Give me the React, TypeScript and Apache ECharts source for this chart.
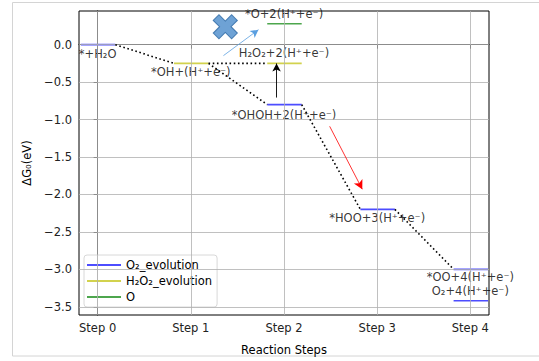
import React, { useEffect, useRef } from "react";
import * as echarts from "echarts";

const stepNames = ["Step 0", "Step 1", "Step 2", "Step 3", "Step 4"];
const stepPositions = [0, 1, 2, 3, 4];
const yTickValues = [0.0, -0.5, -1.0, -1.5, -2.0, -2.5, -3.0, -3.5];

// [step, ΔG]
const o2Evolution = [[0, 0.0], [2, -0.8], [3, -2.2], [4, -3.0], [4, -3.42]];
const h2o2Evolution = [[1, -0.25], [2, -0.25]];
const oPath = [[2, 0.28]];

// dotted connectors: [from level, to level]
const connectors = [
  [[0, 0.0], [1, -0.25]],
  [[1, -0.25], [2, -0.25]],
  [[1, -0.25], [2, -0.8]],
  [[2, -0.8], [3, -2.2]],
  [[3, -2.2], [4, -3.0]],
];

const stateTexts = [
  "*+H₂O",
  "*OH+(H⁺+e⁻)",
  "*OHOH+2(H⁺+e⁻)",
  "H₂O₂+2(H⁺+e⁻)",
  "*O+2(H⁺+e⁻)",
  "*HOO+3(H⁺+e⁻)",
  "*OO+4(H⁺+e⁻)",
  "O₂+4(H⁺+e⁻)",
];
const stateSteps = [0, 1, 2, 2, 2, 3, 4, 4];
const stateEnergies = [0.0, -0.25, -0.8, -0.25, 0.28, -2.2, -3.0, -3.42];
const labelOffsets = [9, 9, 10, -10, -10, 9, 8, -10];

// arrows: [start, end]
const arrowBlue = [[1.35, -0.146], [1.726, 0.2]];
const arrowBlack = [[1.92, -0.706], [1.92, -0.25]];
const arrowRed = [[2.49, -1.09], [2.84, -1.93]];
const crossMarker = [[1.37, 0.24]];

const X_MIN = -0.2;
const X_MAX = 4.2;
const Y_MIN = -3.61;
const Y_MAX = 0.45;

const HL = 0.18;
const HR = 0.19;

function levelSegments(levels: number[][]) {
  const out: any[] = [];
  levels.forEach((p, i) => {
    if (i > 0) out.push(["-", "-"]);
    out.push([p[0] - HL, p[1]]);
    out.push([p[0] + HR, p[1]]);
  });
  return out;
}

const FONT = "DejaVu Sans";
const fmtNum = (v: number) => v.toFixed(1).replace("-", "\u2212");

export default function App() {
  const ref = useRef<HTMLDivElement>(null);
  useEffect(() => {
    if (!ref.current) return;
    const chart = echarts.init(ref.current, undefined, { renderer: "svg" });

    const connectorData: any[] = [];
    connectors.forEach((c, i) => {
      if (i > 0) connectorData.push(["-", "-"]);
      connectorData.push([c[0][0] + HR, c[0][1]]);
      connectorData.push([c[1][0] - HL, c[1][1]]);
    });

    const labelData = stateTexts.map((t, i) => ({
      value: [stateSteps[i], stateEnergies[i]],
      name: t,
      label: { offset: [0, labelOffsets[i]] },
    }));

    const gridLines: any[] = [
      ...stepPositions.map((v) => [{ coord: [v, Y_MIN] }, { coord: [v, Y_MAX] }]),
      ...yTickValues.map((v) => [{ coord: [X_MIN, v] }, { coord: [X_MAX, v] }]),
    ];

    const mkArrow = (a: number[][], color: string, width: number, size: number) => [
      { coord: a[0], symbol: "none", lineStyle: { color, width, type: "solid" } },
      { coord: a[1], symbol: "arrow", symbolSize: [size * 0.8, size] },
    ];

    const option: any = {
      animation: false,
      textStyle: { fontFamily: FONT },
      graphic: [
        {
          type: "rect",
          shape: { x: 12.5, y: 2.5, width: 600, height: 353.5 },
          style: { fill: "none", stroke: "#d4d4d4", lineWidth: 1 },
          silent: true,
          z: -10,
        },
      ],
      grid: {
        left: 79,
        right: 50,
        top: 11,
        bottom: 45,
        show: true,
        borderColor: "#000",
        borderWidth: 1,
        backgroundColor: "transparent",
      },
      legend: {
        orient: "vertical",
        left: 84,
        top: 255,
        data: ["O₂_evolution", "H₂O₂_evolution", "O"],
        itemWidth: 34,
        itemHeight: 14,
        itemGap: 4,
        padding: [4, 5, 4, 3],
        borderColor: "#d8d8d8",
        borderWidth: 1,
        borderRadius: 3,
        backgroundColor: "rgba(255,255,255,0.8)",
        textStyle: { fontFamily: FONT, fontSize: 11.5, color: "#000" },
        icon: "path://M0,6 L34,6 L34,8 L0,8 Z",
      },
      xAxis: {
        type: "value",
        min: X_MIN,
        max: X_MAX,
        name: "Reaction Steps",
        nameLocation: "middle",
        nameGap: 29,
        nameTextStyle: { fontFamily: FONT, fontSize: 11.5, color: "#000" },
        axisLine: { show: true, lineStyle: { color: "#000", width: 1 } },
        axisTick: { show: true, customValues: stepPositions, length: 4, lineStyle: { color: "#000" } },
        axisLabel: {
          customValues: stepPositions,
          formatter: (v: number) => stepNames[Math.round(v)],
          fontFamily: FONT,
          fontSize: 11.5,
          color: "#222",
          margin: 7,
        },
        splitLine: { show: false },
      },
      yAxis: {
        type: "value",
        min: Y_MIN,
        max: Y_MAX,
        name: "ΔG₀(eV)",
        nameLocation: "middle",
        nameRotate: 90,
        nameGap: 46,
        nameTextStyle: { fontFamily: FONT, fontSize: 11.5, color: "#000" },
        axisLine: { show: true, lineStyle: { color: "#000", width: 1 } },
        axisTick: { show: true, customValues: yTickValues, length: 4, lineStyle: { color: "#000" } },
        axisLabel: {
          customValues: yTickValues,
          formatter: (v: number) => fmtNum(v),
          fontFamily: FONT,
          fontSize: 11.5,
          color: "#222",
          margin: 7,
        },
        splitLine: { show: false },
      },
      series: [
        {
          type: "line",
          name: "gridlines",
          data: [],
          z: 1,
          silent: true,
          markLine: {
            silent: true,
            symbol: "none",
            label: { show: false },
            lineStyle: { color: "#b0b0b0", width: 0.8, type: "solid" },
            data: gridLines,
          },
        },
        {
          type: "line",
          name: "O₂_evolution",
          data: levelSegments(o2Evolution),
          showSymbol: false,
          symbol: "none",
          connectNulls: false,
          lineStyle: { color: "#4d4dff", width: 1.7 },
          itemStyle: { color: "#4d4dff" },
          z: 4,
        },
        {
          type: "line",
          name: "H₂O₂_evolution",
          data: levelSegments(h2o2Evolution),
          showSymbol: false,
          symbol: "none",
          lineStyle: { color: "#d2d24d", width: 1.7 },
          itemStyle: { color: "#d2d24d" },
          z: 4,
        },
        {
          type: "line",
          name: "O",
          data: levelSegments(oPath),
          showSymbol: false,
          symbol: "none",
          lineStyle: { color: "#4da64d", width: 1.7 },
          itemStyle: { color: "#4da64d" },
          z: 4,
        },
        {
          type: "scatter",
          name: "labels",
          data: labelData,
          symbolSize: 1,
          itemStyle: { color: "rgba(0,0,0,0)" },
          silent: true,
          z: 3,
          label: {
            show: true,
            position: "inside",
            formatter: (p: any) => p.name,
            fontFamily: FONT,
            fontSize: 11.5,
            color: "#000",
          },
        },
        {
          type: "line",
          name: "connectors",
          data: connectorData,
          showSymbol: false,
          symbol: "none",
          connectNulls: false,
          lineStyle: { color: "#000", width: 1.6, type: [1.6, 2.6] },
          z: 5,
        },
        {
          type: "line",
          name: "arrows",
          data: [],
          z: 6,
          silent: true,
          markLine: {
            silent: true,
            label: { show: false },
            data: [
              mkArrow(arrowBlue, "#5a9fe0", 0.8, 8),
              mkArrow(arrowBlack, "#000", 0.9, 8),
              mkArrow(arrowRed, "#ff0000", 0.8, 9),
            ],
          },
        },
        {
          type: "scatter",
          name: "cross",
          data: crossMarker,
          symbol:
            "path://M-1,-3.2 L1,-3.2 L1,-1 L3.2,-1 L3.2,1 L1,1 L1,3.2 L-1,3.2 L-1,1 L-3.2,1 L-3.2,-1 L-1,-1 Z",
          symbolRotate: 45,
          symbolSize: 26,
          itemStyle: { color: "#4a8bca", borderColor: "#2a66a2", borderWidth: 1 },
          z: 7,
        },
      ],
    };
    chart.setOption(option);
    return () => chart.dispose();
  }, []);
  return (
    <div
      ref={ref}
      style={{ position: "fixed", left: 0, top: 0, width: 539, height: 361, background: "#fff" }}
    />
  );
}
